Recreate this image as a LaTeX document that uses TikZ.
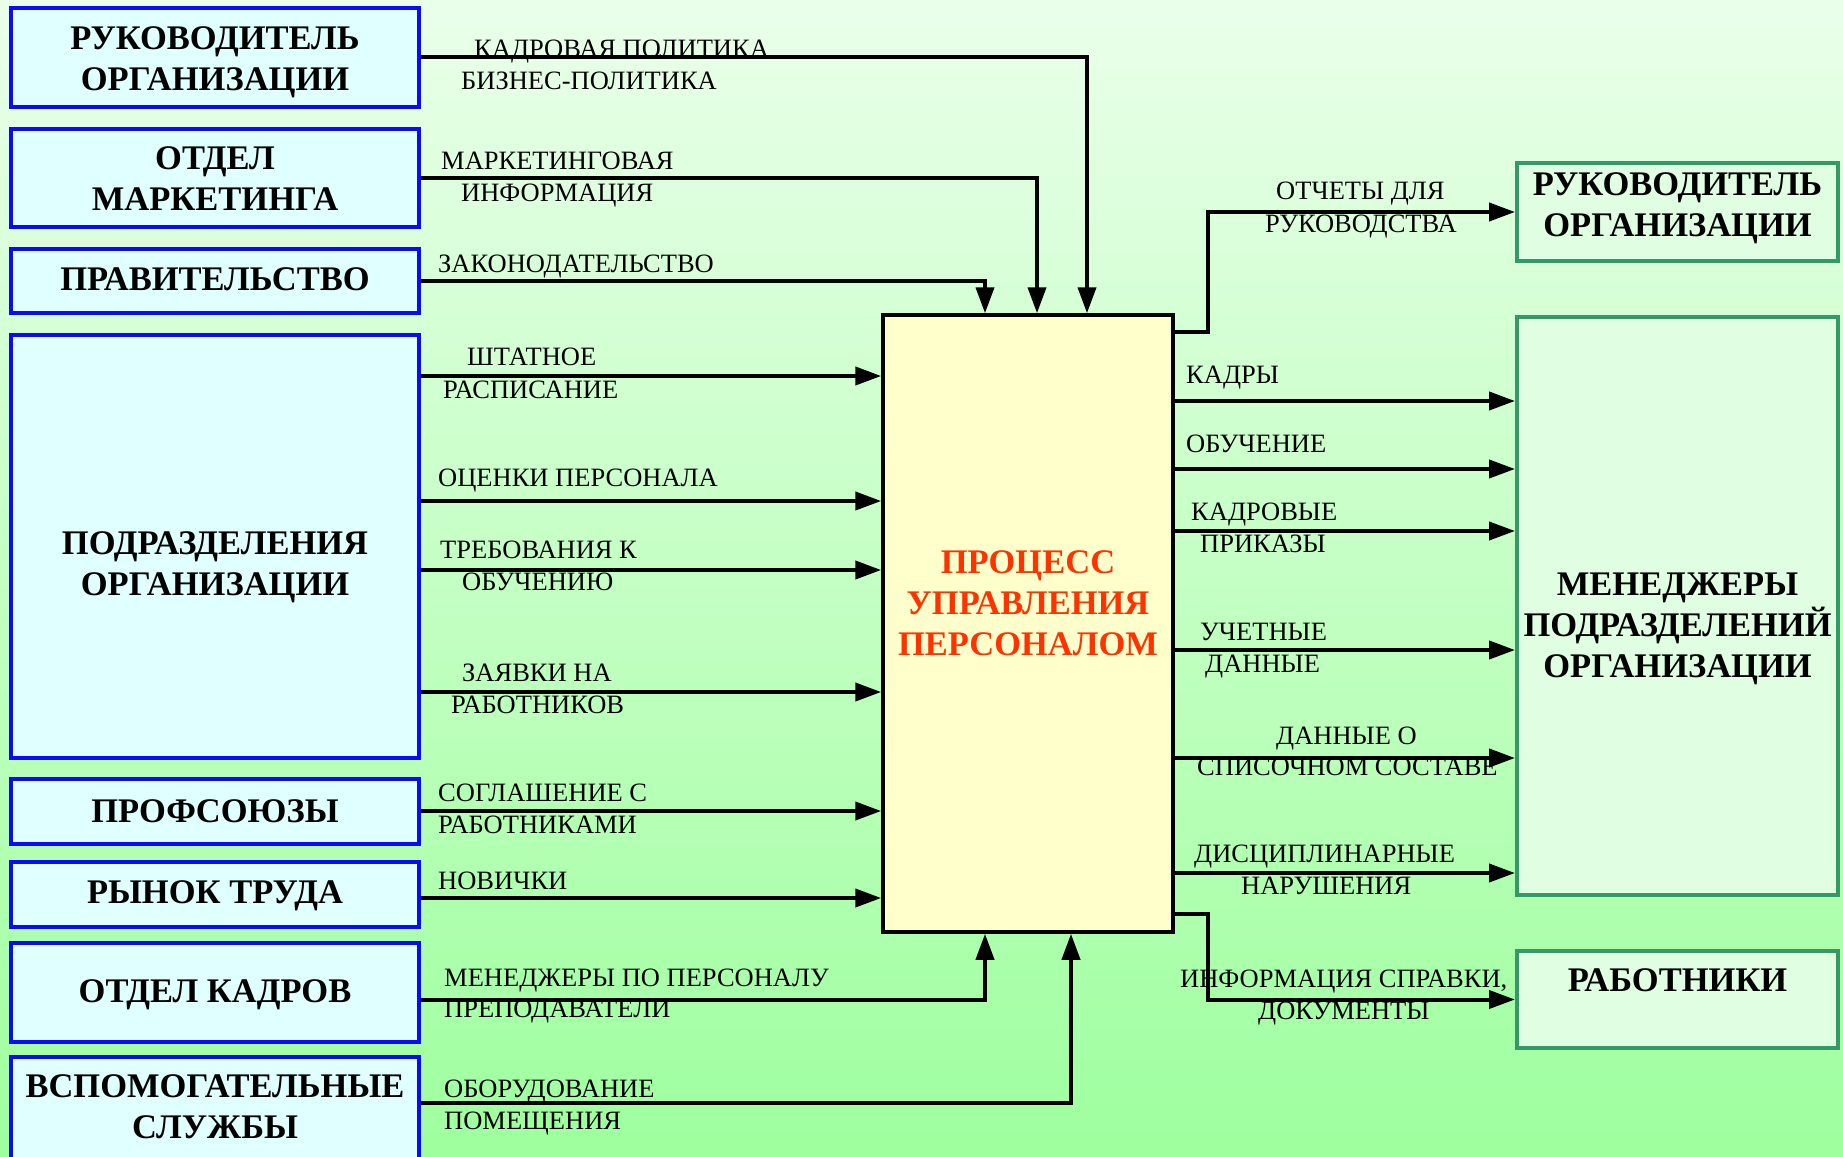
\documentclass[tikz,border=0pt]{standalone}
\usepackage{fontspec}
\setmainfont{Liberation Serif}
\usetikzlibrary{arrows.meta,calc}

\definecolor{bgtop}{HTML}{EAFFEA}
\definecolor{bgbot}{HTML}{9EFF9E}
\definecolor{srcfill}{HTML}{E0FFFF}
\definecolor{srcline}{HTML}{0A0AFF}
\definecolor{dstfill}{HTML}{E0FFE2}
\definecolor{dstline}{HTML}{339966}
\definecolor{procfill}{HTML}{FFFFCC}
\definecolor{proctext}{HTML}{FF3300}

\begin{document}
\begin{tikzpicture}[x=1pt,y=-1pt,
  box/.style={rectangle, inner sep=0pt, line width=4pt},
  src/.style={box, draw=srcline, fill=srcfill, minimum width=408pt},
  dst/.style={box, draw=dstline, fill=dstfill, minimum width=321pt},
  proc/.style={box, draw=black, line width=3.5pt, fill=procfill,
    minimum width=290pt, minimum height=617pt},
  title/.style={font=\fontsize{34.5}{41}\selectfont\bfseries, align=center,
    inner sep=0pt, text=black},
  lbl/.style={font=\fontsize{26.5}{32}\selectfont, anchor=base west, inner sep=0pt},
  flow/.style={line width=4pt, -{Triangle[length=26pt,width=18pt]}}
]
\useasboundingbox (0,0) rectangle (1843,1156);
\clip (0,0) rectangle (1843,1156);
\shade[top color=bgtop, bottom color=bgbot] (0,0) rectangle (1843,1156);

% sources (left column)
\node[src, minimum height=99pt]  (L1) at (215,57.5) {};
\node[src, minimum height=98pt]  (L2) at (215,178) {};
\node[src, minimum height=64pt]  (L3) at (215,281) {};
\node[src, minimum height=423pt] (L4) at (215,546.5) {};
\node[src, minimum height=65pt]  (L5) at (215,811.5) {};
\node[src, minimum height=65pt]  (L6) at (215,894.5) {};
\node[src, minimum height=99pt]  (L7) at (215,992.5) {};
\node[src, minimum height=200pt] (L8) at (215,1157) {};

% central process
\node[proc] (P) at (1028,623.5) {};

% receivers (right column)
\node[dst, minimum height=98pt]  (R1) at (1677.5,212) {};
\node[dst, minimum height=578pt] (R2) at (1677.5,606) {};
\node[dst, minimum height=97pt]  (R3) at (1677.5,999.5) {};

% column positions of the vertical branches
\coordinate (cA) at (1087,0);
\coordinate (cB) at (1037,0);
\coordinate (cC) at (985,0);
\coordinate (cD) at (1071,0);
\coordinate (cR) at (1208,0);

% controls from above
\draw[flow] (L1.east) -| (cA |- P.north);
\draw[flow] (L2.east) -| (cB |- P.north);
\draw[flow] (L3.east) -| (cC |- P.north);

% inputs from the left
\draw[flow] (L4.east |- 0,376) -- (P.west |- 0,376);
\draw[flow] (L4.east |- 0,501) -- (P.west |- 0,501);
\draw[flow] (L4.east |- 0,570) -- (P.west |- 0,570);
\draw[flow] (L4.east |- 0,692) -- (P.west |- 0,692);
\draw[flow] (L5.east |- 0,811) -- (P.west |- 0,811);
\draw[flow] (L6.east |- 0,898) -- (P.west |- 0,898);

% mechanisms from below
\draw[flow] (L7.east |- 0,1000) -| (cC |- P.south);
\draw[flow] (L8.east |- 0,1103) -| (cD |- P.south);

% outputs
\draw[flow] (P.east |- 0,332) -| (cR |- R1.west) -- (R1.west);
\draw[flow] (P.east |- 0,401) -- (R2.west |- 0,401);
\draw[flow] (P.east |- 0,469) -- (R2.west |- 0,469);
\draw[flow] (P.east |- 0,531) -- (R2.west |- 0,531);
\draw[flow] (P.east |- 0,650) -- (R2.west |- 0,650);
\draw[flow] (P.east |- 0,758) -- (R2.west |- 0,758);
\draw[flow] (P.east |- 0,873) -- (R2.west |- 0,873);
\draw[flow] (P.east |- 0,914) -| (cR |- R3.west) -- (R3.west);

% box titles
\node[title] (L1t) at (215,62) {РУКОВОДИТЕЛЬ\\ОРГАНИЗАЦИИ};
\node[title] (L2t) at (215,179) {ОТДЕЛ\\МАРКЕТИНГА};
\node[title] (L3t) at (215,279) {ПРАВИТЕЛЬСТВО};
\node[title] (L4t) at (215,567) {ПОДРАЗДЕЛЕНИЯ\\ОРГАНИЗАЦИИ};
\node[title] (L5t) at (L5.center) {ПРОФСОЮЗЫ};
\node[title] (L6t) at (215,896) {РЫНОК ТРУДА};
\node[title] (L7t) at (215,995) {ОТДЕЛ КАДРОВ};
\node[title] (L8t) at (215,1107) {ВСПОМОГАТЕЛЬНЫЕ\\СЛУЖБЫ};
\node[title, text=proctext] (Pt) at (1028,603) {ПРОЦЕСС\\УПРАВЛЕНИЯ\\ПЕРСОНАЛОМ};
\node[title] (R1t) at (1677.5,208) {РУКОВОДИТЕЛЬ\\ОРГАНИЗАЦИИ};
\node[title] (R2t) at (1677.5,629) {МЕНЕДЖЕРЫ\\ПОДРАЗДЕЛЕНИЙ\\ОРГАНИЗАЦИИ};
\node[title] (R3t) at (1677.5,980) {РАБОТНИКИ};

% flow labels
\node[lbl] (a1)  at (474,57)   {КАДРОВАЯ ПОЛИТИКА};
\node[lbl] (a2)  at (461,89)   {БИЗНЕС-ПОЛИТИКА};
\node[lbl] (a3)  at (441,169)  {МАРКЕТИНГОВАЯ};
\node[lbl] (a4)  at (461,201)  {ИНФОРМАЦИЯ};
\node[lbl] (a5)  at (438,272)  {ЗАКОНОДАТЕЛЬСТВО};
\node[lbl] (a6)  at (467,365)  {ШТАТНОЕ};
\node[lbl] (a7)  at (443,398)  {РАСПИСАНИЕ};
\node[lbl] (a8)  at (438,486)  {ОЦЕНКИ ПЕРСОНАЛА};
\node[lbl] (a9)  at (440,558)  {ТРЕБОВАНИЯ К};
\node[lbl] (a10) at (462,590)  {ОБУЧЕНИЮ};
\node[lbl] (a11) at (462,681)  {ЗАЯВКИ НА};
\node[lbl] (a12) at (451,713)  {РАБОТНИКОВ};
\node[lbl] (a13) at (438,801)  {СОГЛАШЕНИЕ С};
\node[lbl] (a14) at (438,833)  {РАБОТНИКАМИ};
\node[lbl] (a15) at (438,889)  {НОВИЧКИ};
\node[lbl] (a16) at (444,986)  {МЕНЕДЖЕРЫ ПО ПЕРСОНАЛУ};
\node[lbl] (a17) at (444,1017) {ПРЕПОДАВАТЕЛИ};
\node[lbl] (a18) at (444,1097) {ОБОРУДОВАНИЕ};
\node[lbl] (a19) at (444,1129) {ПОМЕЩЕНИЯ};

\node[lbl] (b1)  at (1276,199) {ОТЧЕТЫ ДЛЯ};
\node[lbl] (b2)  at (1265,232) {РУКОВОДСТВА};
\node[lbl] (b3)  at (1186,383) {КАДРЫ};
\node[lbl] (b4)  at (1186,452) {ОБУЧЕНИЕ};
\node[lbl] (b5)  at (1191,520) {КАДРОВЫЕ};
\node[lbl] (b6)  at (1200,552) {ПРИКАЗЫ};
\node[lbl] (b7)  at (1200,640) {УЧЕТНЫЕ};
\node[lbl] (b8)  at (1205,672) {ДАННЫЕ};
\node[lbl] (b9)  at (1276,744) {ДАННЫЕ О};
\node[lbl] (b10) at (1197,775) {СПИСОЧНОМ СОСТАВЕ};
\node[lbl] (b11) at (1194,862) {ДИСЦИПЛИНАРНЫЕ};
\node[lbl] (b12) at (1241,894) {НАРУШЕНИЯ};
\node[lbl] (b13) at (1180,987) {ИНФОРМАЦИЯ СПРАВКИ,};
\node[lbl] (b14) at (1258,1019) {ДОКУМЕНТЫ};
\end{tikzpicture}
\end{document}
